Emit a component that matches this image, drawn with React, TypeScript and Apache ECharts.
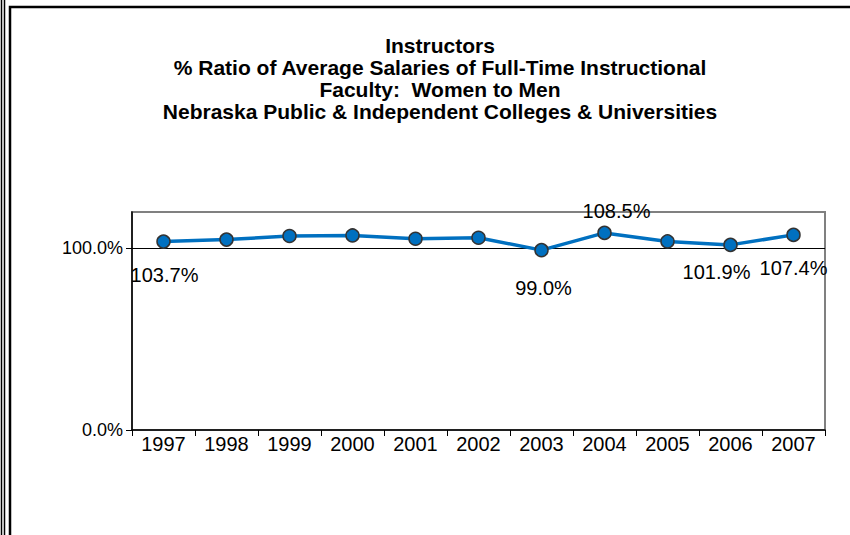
import React, { useEffect, useRef } from "react";
import * as echarts from "echarts";

const years = ["1997", "1998", "1999", "2000", "2001", "2002", "2003", "2004", "2005", "2006", "2007"];
const ratios = [103.7, 104.8, 106.8, 107.1, 105.3, 105.8, 99.0, 108.5, 103.8, 101.9, 107.4];
// which points carry a value label, with their label offsets (dx, dy)
const labelledIdx = [0, 6, 7, 9, 10];
const labelOffsets = [[1, 33], [2, 38], [12, -22], [-14, 27], [0, 33]];
const yTicks = [0, 100];
const titleLines = [
  "Instructors",
  "% Ratio of Average Salaries of Full-Time Instructional",
  "Faculty:  Women to Men",
  "Nebraska Public & Independent Colleges & Universities",
];

const FONT = 'Arial, "Liberation Sans", sans-serif';

export default function App() {
  const ref = useRef<HTMLDivElement>(null);
  useEffect(() => {
    document.body.style.margin = "0";
    const chart = echarts.init(ref.current!, undefined, { renderer: "svg" });
    const data = ratios.map((v, i) => {
      const k = labelledIdx.indexOf(i);
      if (k < 0) return { value: v };
      return {
        value: v,
        label: {
          show: true,
          position: "inside",
          offset: labelOffsets[k],
          formatter: (p: any) => p.value.toFixed(1) + "%",
          color: "#000",
          fontSize: 20,
          fontFamily: FONT,
        },
      };
    });
    chart.setOption({
      animation: false,
      backgroundColor: "#fff",
      textStyle: { fontFamily: FONT },
      graphic: [
        { type: "line", shape: { x1: 1.5, y1: 0, x2: 1.5, y2: 535 }, style: { stroke: "#000", lineWidth: 1.5 } },
        { type: "line", shape: { x1: 4.5, y1: 0, x2: 4.5, y2: 535 }, style: { stroke: "#000", lineWidth: 1.5 } },
        { type: "rect", shape: { x: 10, y: 7, width: 900, height: 600 }, style: { fill: "none", stroke: "#000", lineWidth: 2.5 } },
        {
          type: "text",
          x: 440,
          y: 34,
          style: {
            text: titleLines.join("\n"),
            align: "center",
            verticalAlign: "top",
            font: `bold 21px ${FONT}`,
            lineHeight: 22,
            fill: "#000",
          },
        },
      ],
      grid: { left: 132, right: 25, top: 212, bottom: 105, show: true, borderColor: "#808080", borderWidth: 2, backgroundColor: "transparent" },
      xAxis: {
        type: "category",
        data: years,
        boundaryGap: true,
        axisLine: { lineStyle: { color: "#000", width: 1.5 } },
        axisTick: { show: true, length: 6, lineStyle: { color: "#000" } },
        axisLabel: { color: "#000", fontSize: 20, margin: 4, fontFamily: FONT },
      },
      yAxis: {
        type: "value",
        min: 0,
        max: 120,
        interval: 100,
        axisLine: { show: true, lineStyle: { color: "#000", width: 1.5 } },
        axisTick: { show: true, length: 6, lineStyle: { color: "#000" }, customValues: yTicks },
        axisLabel: {
          color: "#000",
          fontSize: 18,
          margin: 9,
          fontFamily: FONT,
          customValues: yTicks,
          formatter: (v: number) => (v > 100 ? "" : v.toFixed(1) + "%"),
        },
        splitLine: { show: false },
      },
      series: [
        {
          type: "line",
          data,
          symbol: "circle",
          symbolSize: 13,
          lineStyle: { color: "#0070C0", width: 3.5 },
          itemStyle: { color: "#0070C0", borderColor: "#333", borderWidth: 1.5 },
          label: { show: false },
          z: 3,
          markLine: {
            silent: true,
            symbol: "none",
            label: { show: false },
            lineStyle: { color: "#000", type: "solid", width: 1.2 },
            data: [{ yAxis: 100 }],
            z: 1,
          },
        },
      ],
    });
    return () => chart.dispose();
  }, []);
  return <div ref={ref} style={{ width: 850, height: 535 }} />;
}
